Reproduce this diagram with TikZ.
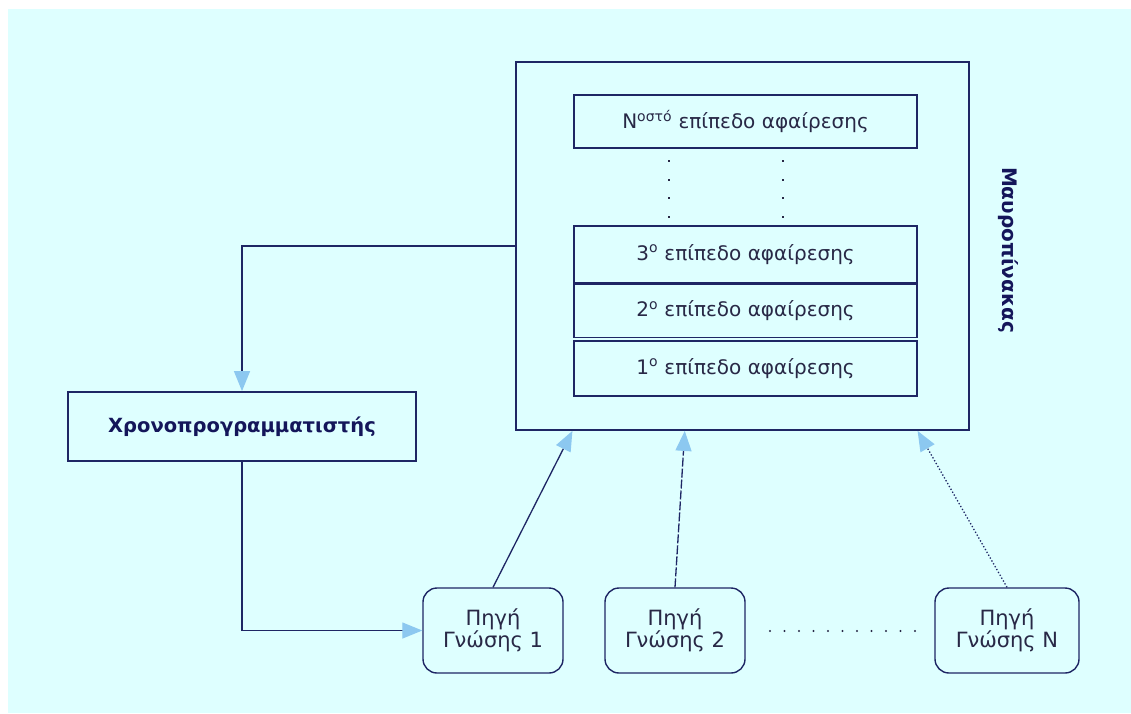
\documentclass[tikz,border=0pt]{standalone}
\usepackage{fontspec}
\setmainfont{DejaVu Sans}
\usetikzlibrary{arrows.meta,calc}
\definecolor{bgcyan}{RGB}{222,255,255}
\definecolor{ink}{RGB}{30,38,100}
\definecolor{txt}{RGB}{40,40,70}
\definecolor{boldtxt}{RGB}{20,22,90}
\definecolor{tipblue}{RGB}{140,200,240}

\begin{document}
\begin{tikzpicture}[x=1pt,y=-1pt,
  frame/.style={draw=ink,line width=1.8pt,inner sep=0pt},
  level/.style={frame,minimum width=343pt,text=txt,
    font=\fontsize{20}{24}\selectfont},
  source/.style={draw=ink,line width=1.4pt,rounded corners=14pt,
    minimum width=140pt,minimum height=85pt,inner sep=0pt,
    text=txt,align=center,font=\fontsize{21}{22}\selectfont},
  link/.style={draw=ink,line width=1.3pt,
    -{Triangle[length=20pt,width=16pt,color=tipblue]}},
  dotmark/.style={fill=txt}
]
\useasboundingbox (0,0) rectangle (1131,713);
% background
\fill[white] (0,0) rectangle (1131,713);
\fill[bgcyan] (8,9) rectangle (1131,713);

% blackboard and its abstraction levels
\node[frame,minimum width=453pt,minimum height=368pt] (board) at (742.5,246) {};
\node[font=\bfseries\fontsize{20}{24}\selectfont,text=boldtxt,rotate=-90]
  (boardlabel) at (1008,250) {Μαυροπίνακας};

\node[level,minimum height=53pt] (lvlN) at (745.5,121.5) {N\textsuperscript{οστό} επίπεδο αφαίρεσης};
\node[level,minimum height=57pt] (lvl3) at (745.5,254.5) {3\textsuperscript{ο} επίπεδο αφαίρεσης};
\node[level,minimum height=53pt] (lvl2) at (745.5,311) {2\textsuperscript{ο} επίπεδο αφαίρεσης};
\node[level,minimum height=55pt] (lvl1) at (745.5,368.5) {1\textsuperscript{ο} επίπεδο αφαίρεσης};

% vertical ellipsis between the top level and the third level
\foreach \y in {160,179,197,216} {
  \fill[dotmark] (667.5,\y) rectangle +(2.2,2.2);
  \fill[dotmark] (781.5,\y) rectangle +(2.2,2.2);
}

% scheduler
\node[frame,minimum width=348pt,minimum height=69pt,text=boldtxt,
  font=\bfseries\fontsize{19.5}{24}\selectfont] (sched) at (242,426.5) {Χρονοπρογραμματιστής};

% knowledge sources
\node[source] (s1) at (493,630.5) {Πηγή\\Γνώσης 1};
\node[source] (s2) at (675,630.5) {Πηγή\\Γνώσης 2};
\node[source,minimum width=144pt] (sN) at (1007,630.5) {Πηγή\\Γνώσης N};

% horizontal ellipsis between the sources
\foreach \i in {0,...,10}
  \fill[dotmark] (770+\i*14.5,631) circle (1.1pt);

% connectors
\draw[link] (board.west) -| (sched.north);
\draw[link] (sched.south) |- (s1.west);
\draw[link] (s1.north) -- ($(board.south west)!0.126!(board.south east)$);
\draw[link,dash pattern=on 9pt off 2pt] (s2.north) -- ($(board.south west)!0.373!(board.south east)$);
\draw[link,dotted] (sN.north) -- ($(board.south west)!0.885!(board.south east)$);
\end{tikzpicture}
\end{document}
